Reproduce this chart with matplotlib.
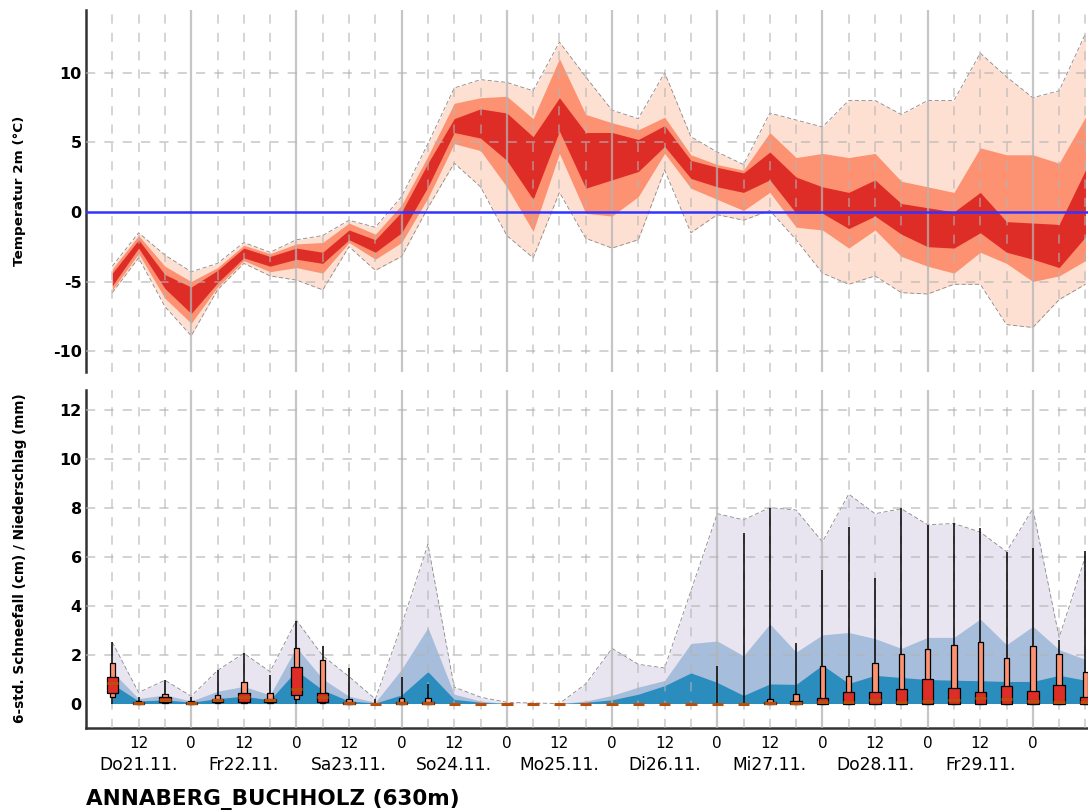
import numpy as np
import matplotlib
matplotlib.use("Agg")
import matplotlib.pyplot as plt
from matplotlib.transforms import blended_transform_factory

# Zeitachse: Stunden ab Do21.11. 00 Uhr, alle 6 Stunden
hours = [6 * k for k in range(1, 39)]
days = ["Do21.11.", "Fr22.11.", "Sa23.11.", "So24.11.", "Mo25.11.",
        "Di26.11.", "Mi27.11.", "Do28.11.", "Fr29.11."]

# Temperatur 2m: Quantilbänder (aussen / mitte / innen)
t_out_hi = [-3.9, -1.5, -3.1, -4.3, -3.7, -2.2, -2.9, -2.0, -1.7, -0.6, -1.1, 1.1, 4.9,
            8.9, 9.5, 9.3, 8.7, 12.2, 9.7, 7.3, 6.7, 10.0, 5.4, 4.3, 3.4, 7.1, 6.6,
            6.1, 8.0, 8.0, 7.0, 8.0, 8.0, 11.4, 9.7, 8.2, 8.7, 12.8]
t_mid_hi = [-4.1, -1.7, -3.9, -5.0, -4.0, -2.4, -3.0, -2.3, -2.2, -0.8, -1.6, 0.5, 4.0,
            7.8, 8.2, 8.3, 6.7, 11.0, 7.0, 6.4, 5.9, 6.8, 4.1, 3.4, 3.0, 5.7, 3.9,
            4.2, 3.9, 4.2, 2.2, 1.8, 1.4, 4.6, 4.1, 4.1, 3.5, 6.8]
t_in_hi = [-4.4, -2.0, -4.5, -5.4, -4.2, -2.6, -3.2, -2.6, -2.9, -1.3, -2.0, 0.0, 3.5,
           6.7, 7.4, 7.1, 5.4, 8.2, 5.7, 5.7, 5.2, 6.2, 3.7, 3.2, 2.8, 4.3, 2.5,
           1.8, 1.4, 2.3, 0.6, 0.3, 0.0, 1.4, -0.7, -0.8, -0.9, 3.0]
t_in_lo = [-5.3, -2.6, -5.5, -7.3, -5.1, -3.3, -3.9, -3.4, -3.7, -2.0, -2.9, -1.5, 1.8,
           5.7, 5.3, 3.7, 0.9, 5.8, 1.7, 2.3, 2.9, 4.7, 2.4, 1.8, 1.4, 2.3, -0.1,
           -0.1, -1.2, -0.3, -1.6, -2.5, -2.6, -1.5, -2.9, -3.4, -4.0, -1.8]
t_mid_lo = [-5.6, -3.0, -6.2, -8.0, -5.4, -3.5, -4.3, -4.0, -4.4, -2.2, -3.4, -2.2, 1.0,
            4.9, 4.4, 1.8, -1.4, 4.2, -0.1, -0.3, 1.1, 4.2, 1.7, 0.9, 0.1, 1.4, -1.1,
            -1.3, -2.6, -1.3, -3.2, -3.9, -4.4, -2.9, -3.7, -5.0, -4.6, -3.5]
t_out_lo = [-5.8, -3.3, -6.8, -8.9, -5.6, -3.7, -4.6, -4.9, -5.6, -2.5, -4.2, -3.2, 0.3,
            3.5, 1.8, -1.7, -3.3, 1.4, -1.9, -2.6, -2.0, 3.0, -1.5, -0.2, -0.6, 0.1, -2.0,
            -4.4, -5.2, -4.6, -5.8, -5.9, -5.2, -5.2, -8.1, -8.3, -6.3, -5.2]

# Niederschlag (mm): Quantilbänder ab 0
p_hi = [2.5, 0.45, 0.95, 0.3, 1.35, 2.05, 1.3, 3.4, 1.95, 1.1, 0.18, 3.2, 6.5,
        0.67, 0.26, 0.05, 0.02, 0.0, 0.8, 2.25, 1.6, 1.45, 4.6, 7.75, 7.5, 8.0, 7.9,
        6.6, 8.55, 7.75, 7.95, 7.3, 7.35, 7.0, 6.2, 7.95, 2.7, 6.0]
p_mid = [1.3, 0.2, 0.35, 0.1, 0.5, 0.7, 0.35, 2.3, 1.0, 0.3, 0.05, 1.4, 3.1,
         0.38, 0.1, 0.0, 0.0, 0.0, 0.1, 0.33, 0.67, 0.94, 2.45, 2.55, 1.95, 3.25, 2.1,
         2.8, 2.9, 2.65, 2.25, 2.7, 2.7, 3.45, 2.4, 3.15, 2.2, 1.8]
p_lo = [0.8, 0.1, 0.15, 0.05, 0.2, 0.3, 0.15, 1.35, 0.55, 0.1, 0.02, 0.35, 1.3,
        0.17, 0.05, 0.0, 0.0, 0.0, 0.05, 0.15, 0.38, 0.73, 1.25, 0.86, 0.33, 0.8, 0.78,
        1.57, 0.82, 1.15, 1.06, 0.98, 0.95, 0.93, 0.9, 0.9, 1.15, 0.95]

# 6-std. Schneefall (cm): Boxen
s_max = [2.5, 0.28, 0.94, 0.28, 1.35, 2.07, 1.17, 3.36, 2.33, 1.44, 0.18, 1.1, 0.8,
         0, 0, 0, 0, 0, 0, 0, 0, 0, 0, 1.55, 6.95, 7.99, 2.48,
         5.47, 7.21, 5.14, 7.98, 7.28, 7.37, 7.17, 6.19, 6.33, 2.58, 6.22]
s_q90 = [1.65, 0.1, 0.4, 0.1, 0.35, 0.87, 0.44, 2.26, 1.76, 0.19, 0, 0.23, 0.23,
         0, 0, 0, 0, 0, 0, 0, 0, 0, 0, 0, 0, 0.19, 0.4,
         1.55, 1.13, 1.64, 2.01, 2.22, 2.38, 2.53, 1.85, 2.33, 2.01, 1.29]
s_q75 = [1.1, 0.05, 0.25, 0.05, 0.2, 0.44, 0.2, 1.48, 0.44, 0.05, 0, 0.05, 0.05,
         0, 0, 0, 0, 0, 0, 0, 0, 0, 0, 0, 0, 0.05, 0.1,
         0.24, 0.46, 0.46, 0.6, 1.02, 0.65, 0.46, 0.72, 0.51, 0.76, 0.26]
s_med = [0.85, 0.02, 0.15, 0.02, 0.15, 0.25, 0.15, 0.6, 0.25, 0.02, 0, 0.02, 0.02,
         0, 0, 0, 0, 0, 0, 0, 0, 0, 0, 0, 0, 0.02, 0.03,
         0.07, 0.08, 0.15, 0.05, 0.1, 0.15, 0.23, 0.2, 0.1, 0.07, 0.05]
s_q25 = [0.42, 0, 0.05, 0, 0.05, 0.08, 0.05, 0.35, 0.07, 0, 0, 0, 0,
         0, 0, 0, 0, 0, 0, 0, 0, 0, 0, 0, 0, 0, 0,
         0, 0, 0, 0, 0, 0, 0, 0, 0, 0, 0]
s_q10 = [0.25, 0, 0.02, 0, 0.02, 0.03, 0.02, 0.2, 0.03, 0, 0, 0, 0,
         0, 0, 0, 0, 0, 0, 0, 0, 0, 0, 0, 0, 0, 0,
         0, 0, 0, 0, 0, 0, 0, 0, 0, 0, 0]

plt.rcParams['font.family'] = ['DejaVu Sans']
plt.rcParams['axes.unicode_minus'] = False

t = np.array(hours)
fig = plt.figure(figsize=(10.88, 8.11), dpi=100)
W, H = 1088, 811
ax1 = fig.add_axes([86 / W, 1 - 372 / H, 1 - 86 / W, (372 - 10) / H])
ax2 = fig.add_axes([86 / W, 1 - 728 / H, 1 - 86 / W, (728 - 390) / H])

xmax = 1001 / 105.1 * 24
grid_c = '#b4b4b4'


def grid(ax, yticks):
    for h in range(6, int(xmax) + 1, 6):
        if h % 24 == 0:
            ax.axvline(h, color=grid_c, lw=1.6, alpha=0.75, zorder=3)
        else:
            ax.axvline(h, color=grid_c, lw=1.1, alpha=0.7, ls=(0, (6, 6)), zorder=3)
    for y in yticks:
        ax.axhline(y, color=grid_c, lw=1.1, alpha=0.75, ls=(0, (6, 6)), zorder=3)


# --- Temperatur ---
ax1.fill_between(t, t_out_lo, t_out_hi, color='#fee0d2', lw=0, zorder=1)
ax1.fill_between(t, t_mid_lo, t_mid_hi, color='#fc9272', lw=0, zorder=1)
ax1.fill_between(t, t_in_lo, t_in_hi, color='#de2d26', lw=0, zorder=1)
ax1.plot(t, t_out_hi, color='#888888', lw=0.6, ls=(0, (5, 3)), zorder=2)
ax1.plot(t, t_out_lo, color='#888888', lw=0.6, ls=(0, (5, 3)), zorder=2)
grid(ax1, [-10, -5, 5, 10])
ax1.axhline(0, color='#3333ff', lw=1.8, zorder=4)
ax1.set_xlim(0, xmax)
ax1.set_ylim(-11.5, 14.5)
ax1.set_yticks([-10, -5, 0, 5, 10])
ax1.set_xticks([])
for s in ['top', 'right', 'bottom']:
    ax1.spines[s].set_visible(False)
ax1.spines['left'].set_linewidth(1.8)
ax1.spines['left'].set_color('#333333')

# --- Schnee / Niederschlag ---
ax2.fill_between(t, 0, p_hi, color='#e8e5f1', lw=0, zorder=1)
ax2.fill_between(t, 0, p_mid, color='#a6bddb', lw=0, zorder=1)
ax2.fill_between(t, 0, p_lo, color='#2b8cbe', lw=0, zorder=1)
ax2.plot(t, p_hi, color='#888888', lw=0.6, ls=(0, (5, 3)), zorder=2)
grid(ax2, [2, 4, 6, 8, 10, 12])

s_max, s_q90, s_q75 = np.array(s_max), np.array(s_q90), np.array(s_q75)
s_med, s_q25, s_q10 = np.array(s_med), np.array(s_q25), np.array(s_q10)
has = s_max > 0
ax2.vlines(t[has], s_q90[has], s_max[has], color='black', lw=1.1, zorder=5)
ax2.vlines(t[has], 0, s_q10[has], color='black', lw=1.1, zorder=5)
box = s_q90 > 0
ax2.bar(t[box], (s_q90 - s_q10)[box], bottom=s_q10[box], width=1.25,
        color='#fc9272', edgecolor='black', lw=0.9, zorder=6)
box = s_q75 > 0
ax2.bar(t[box], (s_q75 - s_q25)[box], bottom=s_q25[box], width=2.6,
        color='#de2d26', edgecolor='black', lw=0.9, zorder=7)
ax2.hlines(s_med, t - 1.3, t + 1.3, color='#b8500c', lw=2.2, zorder=8)

ax2.set_xlim(0, xmax)
ax2.set_ylim(-1, 12.8)
ax2.set_yticks([0, 2, 4, 6, 8, 10, 12])
xt = list(range(12, 217, 12))
ax2.set_xticks(xt)
ax2.set_xticklabels(['0' if h % 24 == 0 else '12' for h in xt], fontsize=11)
trans = blended_transform_factory(ax2.transData, fig.transFigure)
for i, d in enumerate(days):
    ax2.text(24 * i + 12, 1 - 765 / H, d, transform=trans, ha='center',
             va='center', fontsize=12.3)
for s in ['top', 'right']:
    ax2.spines[s].set_visible(False)
for s in ['left', 'bottom']:
    ax2.spines[s].set_linewidth(1.8)
    ax2.spines[s].set_color('#333333')

for ax in (ax1, ax2):
    ax.tick_params(axis='y', length=0, pad=3, labelsize=11.5)
    ax.tick_params(axis='x', length=0, pad=6)
    for lab in ax.get_yticklabels():
        lab.set_fontweight('bold')

fig.text(20 / W, 1 - 191 / H, 'Temperatur 2m (°C)', rotation=90,
         ha='center', va='center', fontsize=9.7, fontweight='bold')
fig.text(20 / W, 1 - 558 / H, '6-std. Schneefall (cm) / Niederschlag (mm)',
         rotation=90, ha='center', va='center', fontsize=9.8, fontweight='bold')
fig.text(86 / W, 1 - 799 / H, 'ANNABERG_BUCHHOLZ (630m)', ha='left', va='center',
         fontsize=15.5, fontweight='bold')

fig.savefig('out.png', dpi=100)
